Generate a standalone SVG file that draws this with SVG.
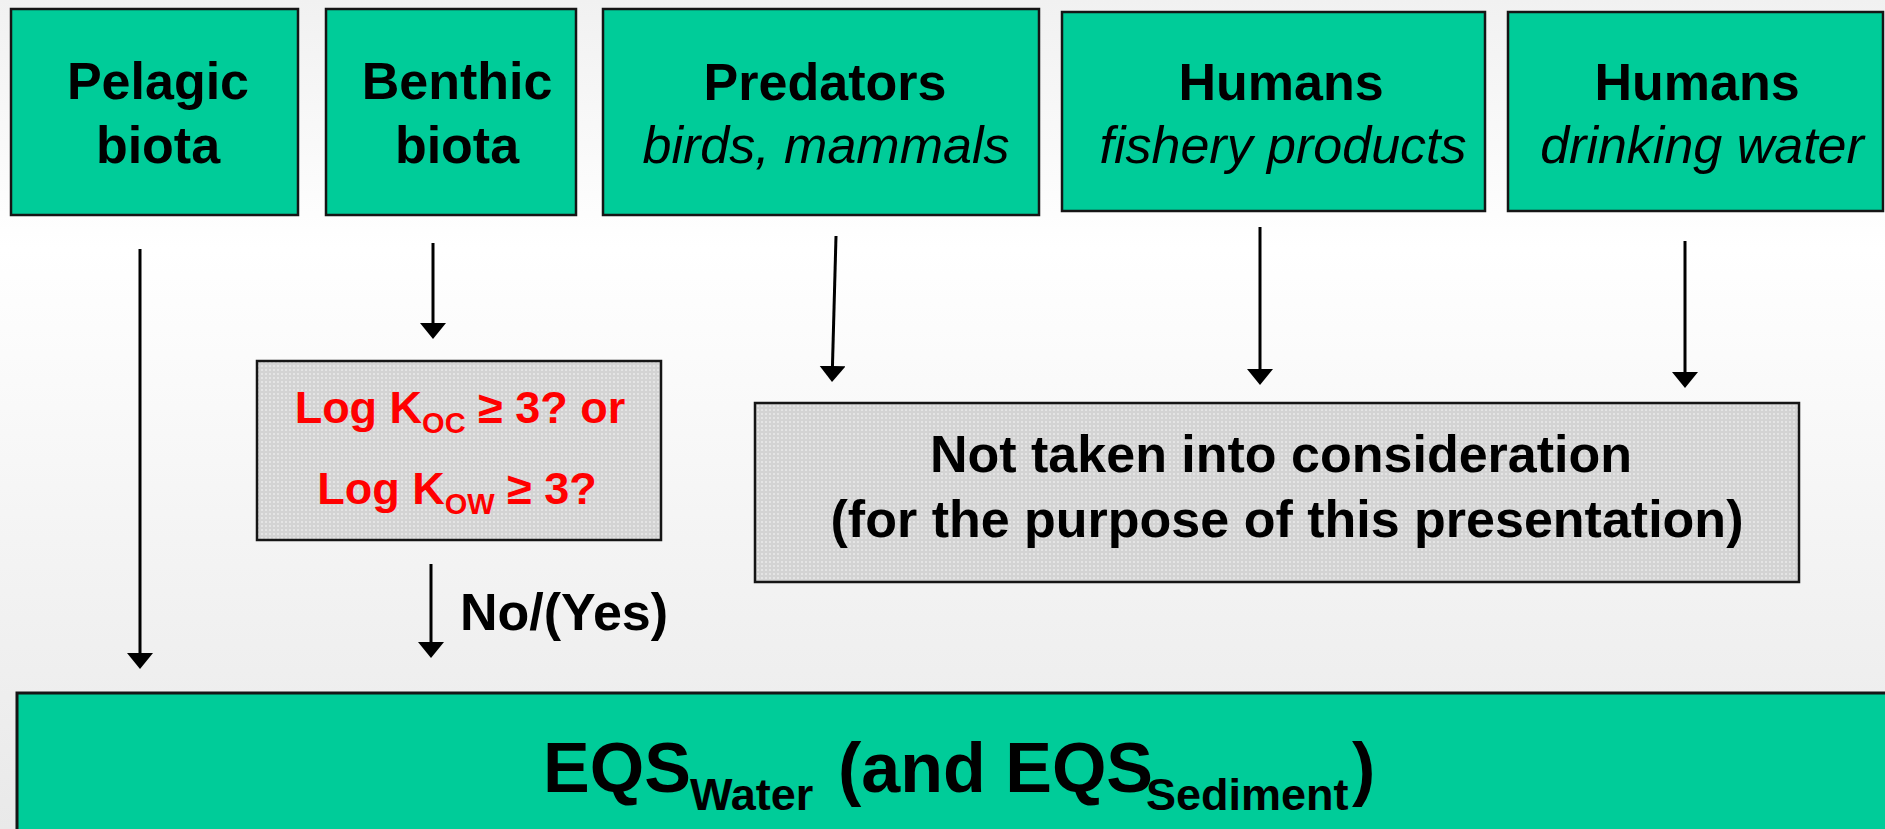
<svg xmlns="http://www.w3.org/2000/svg" width="1885" height="829" viewBox="0 0 1885 829">
<defs>
<linearGradient id="bg" x1="0" y1="0" x2="0" y2="1">
<stop offset="0" stop-color="#f1f1f1"/>
<stop offset="0.3" stop-color="#ffffff"/>
<stop offset="1" stop-color="#e9e9e9"/>
</linearGradient>
<pattern id="dots" width="4" height="4" patternUnits="userSpaceOnUse">
<rect width="4" height="4" fill="#d3d3d3"/>
<rect x="1" y="1" width="2" height="2" fill="#e4e4e4"/>
</pattern>
<marker id="ah" markerUnits="userSpaceOnUse" markerWidth="16" markerHeight="26" viewBox="0 0 16 26" refX="6" refY="13" orient="auto">
<path d="M0,0 L16,13 L0,26 z" fill="#000"/>
</marker>
<style>
.g{fill:#00cc99;stroke:#151515;stroke-width:2.5}
.q{fill:url(#dots);stroke:#151515;stroke-width:2.5}
.b{font-family:"Liberation Sans",Arial,sans-serif;font-weight:bold;font-size:52px;fill:#000;text-anchor:middle}
.i{font-family:"Liberation Sans",Arial,sans-serif;font-style:italic;font-size:52px;fill:#000;text-anchor:middle}
.r{font-family:"Liberation Sans",Arial,sans-serif;font-weight:bold;font-size:45px;fill:#ff0000;text-anchor:middle}
.e{font-family:"Liberation Sans",Arial,sans-serif;font-weight:bold;font-size:70px;fill:#000}
.c line{stroke:#000;stroke-width:3;marker-end:url(#ah)}
</style>
</defs>
<rect width="1885" height="829" fill="url(#bg)"/>

<g id="pelagic">
<rect class="g" x="11" y="9" width="287" height="206"/>
<text class="b" x="158" y="99">Pelagic</text>
<text class="b" x="158" y="163">biota</text>
</g>
<g id="benthic">
<rect class="g" x="326" y="9" width="250" height="206"/>
<text class="b" x="457" y="99">Benthic</text>
<text class="b" x="457" y="163">biota</text>
</g>
<g id="predators">
<rect class="g" x="603" y="9" width="436" height="206"/>
<text class="b" x="825" y="100">Predators</text>
<text class="i" x="826" y="163">birds, mammals</text>
</g>
<g id="humans-fishery">
<rect class="g" x="1062" y="12" width="423" height="199"/>
<text class="b" x="1281" y="100">Humans</text>
<text class="i" x="1283" y="163">fishery products</text>
</g>
<g id="humans-drinking">
<rect class="g" x="1508" y="12" width="375" height="199"/>
<text class="b" x="1697" y="100">Humans</text>
<text class="i" x="1702" y="163">drinking water</text>
</g>

<g id="log-k">
<rect class="q" x="257" y="361" width="404" height="179"/>
<text class="r" x="460" y="423">Log K<tspan font-size="29" dy="10">OC</tspan><tspan dy="-10"> ≥ 3? or</tspan></text>
<text class="r" x="457" y="504">Log K<tspan font-size="29" dy="10">OW</tspan><tspan dy="-10"> ≥ 3?</tspan></text>
</g>

<g id="not-considered">
<rect class="q" x="755" y="403" width="1044" height="179"/>
<text class="b" x="1281" y="472" font-size="54">Not taken into consideration</text>
<text class="b" x="1287" y="537" font-size="54">(for the purpose of this presentation)</text>
</g>

<g id="eqs">
<rect class="g" x="17" y="693" width="1880" height="150" style="stroke-width:3"/>
<text class="e" y="792"><tspan x="543">EQS</tspan><tspan x="690" dy="18" font-size="45">Water</tspan><tspan x="838" dy="-18">(and EQS</tspan><tspan x="1146" dy="18" font-size="45">Sediment</tspan><tspan x="1352" dy="-18">)</tspan></text>
</g>

<g id="connectors" class="c">
<line x1="140" y1="249" x2="140" y2="659"/>
<line x1="433" y1="243" x2="433" y2="329"/>
<line x1="431" y1="564" x2="431" y2="648"/>
<line x1="836" y1="236" x2="832.3" y2="372"/>
<line x1="1260" y1="227" x2="1260" y2="375"/>
<line x1="1685" y1="241" x2="1685" y2="378"/>
<text x="460" y="630" style="font-family:'Liberation Sans',Arial,sans-serif;font-weight:bold;font-size:52px;fill:#000">No/(Yes)</text>
</g>
</svg>
